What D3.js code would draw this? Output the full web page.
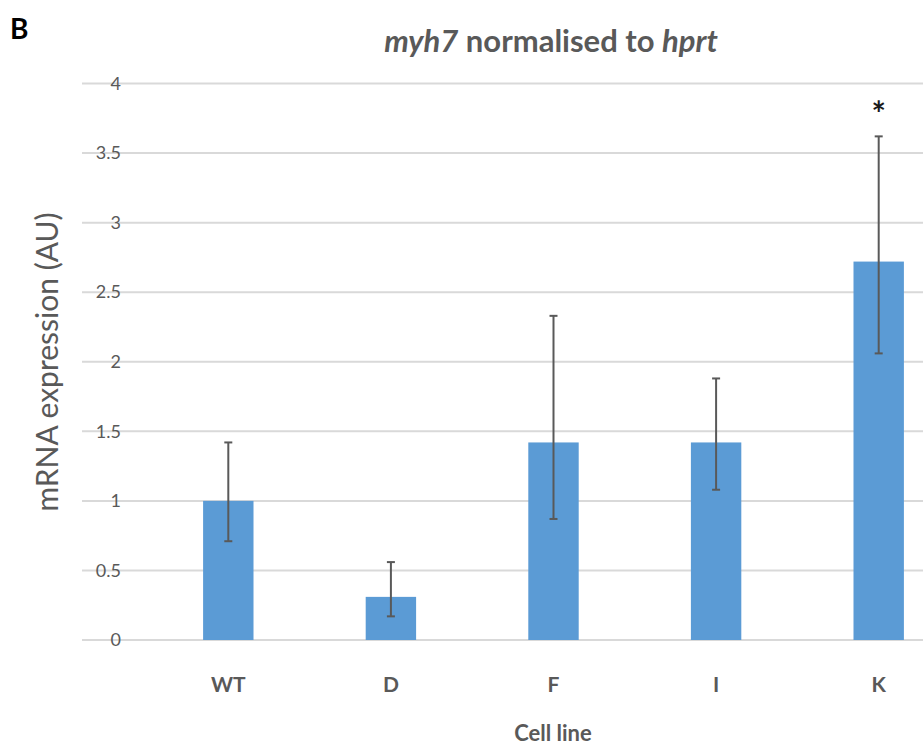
<!DOCTYPE html>
<html>
<head>
<meta charset="utf-8">
<script src="https://cdn.jsdelivr.net/npm/d3@7"></script>
<style>
  body { margin: 0; background: #fff; }
  svg { display: block; }
</style>
</head>
<body>
<div id="chart"></div>
<script>
const width = 923;
const height = 745;

// data
const cellLines = ['WT', 'D', 'F', 'I', 'K'];
const expression = [1.0, 0.31, 1.42, 1.42, 2.72];
const errLow = [0.71, 0.17, 0.87, 1.08, 2.06];
const errHigh = [1.42, 0.56, 2.33, 1.88, 3.62];
const significant = [false, false, false, false, true];
const yTicks = [0, 0.5, 1, 1.5, 2, 2.5, 3, 3.5, 4];

const barColor = '#5B9BD5';
const gridColor = '#D9D9D9';
const textColor = '#595959';
const fontFamily = 'Lato, "Open Sans", sans-serif';

const rows = cellLines.map((c, i) => ({
  name: c, value: expression[i], lo: errLow[i], hi: errHigh[i], star: significant[i]
}));

const svg = d3.select('#chart')
  .append('svg')
  .attr('width', width)
  .attr('height', height)
  .style('font-family', fontFamily);

const xScale = d3.scaleBand()
  .domain(cellLines)
  .range([147, 960])
  .paddingInner(0.69)
  .paddingOuter(0.345);

const yScale = d3.scaleLinear()
  .domain([0, 4])
  .range([640, 83.5]);

// gridlines
svg.append('g')
  .selectAll('line')
  .data(yTicks)
  .join('line')
  .attr('x1', 82)
  .attr('x2', width)
  .attr('y1', d => yScale(d))
  .attr('y2', d => yScale(d))
  .attr('stroke', gridColor)
  .attr('stroke-width', 2);

// y tick labels
const yAxis = d3.axisLeft(yScale)
  .tickValues(yTicks)
  .tickSize(0)
  .tickPadding(0)
  .tickFormat(d3.format('~g'));

const yAxisG = svg.append('g')
  .attr('transform', 'translate(121, 0)')
  .call(yAxis);
yAxisG.select('.domain').remove();
yAxisG.selectAll('text')
  .style('font-size', '18px')
  .style('font-family', fontFamily)
  .attr('fill', textColor);

// bars
svg.append('g')
  .selectAll('rect')
  .data(rows)
  .join('rect')
  .attr('x', d => xScale(d.name))
  .attr('y', d => yScale(d.value))
  .attr('width', xScale.bandwidth())
  .attr('height', d => yScale(0) - yScale(d.value))
  .attr('fill', barColor);

// error bars
const errG = svg.append('g')
  .attr('stroke', textColor)
  .attr('stroke-width', 2);
const cx = d => xScale(d.name) + xScale.bandwidth() / 2;

errG.selectAll('.err-v')
  .data(rows)
  .join('line')
  .attr('class', 'err-v')
  .attr('x1', cx).attr('x2', cx)
  .attr('y1', d => yScale(d.lo))
  .attr('y2', d => yScale(d.hi));

errG.selectAll('.cap-hi')
  .data(rows)
  .join('line')
  .attr('class', 'cap-hi')
  .attr('x1', d => cx(d) - 4).attr('x2', d => cx(d) + 4)
  .attr('y1', d => yScale(d.hi))
  .attr('y2', d => yScale(d.hi));

errG.selectAll('.cap-lo')
  .data(rows)
  .join('line')
  .attr('class', 'cap-lo')
  .attr('x1', d => cx(d) - 4).attr('x2', d => cx(d) + 4)
  .attr('y1', d => yScale(d.lo))
  .attr('y2', d => yScale(d.lo));

// significance star
svg.append('g')
  .selectAll('text')
  .data(rows.filter(d => d.star))
  .join('text')
  .attr('x', cx)
  .attr('y', d => yScale(d.hi) - 10)
  .attr('text-anchor', 'middle')
  .style('font-size', '34px')
  .style('font-weight', 'bold')
  .attr('fill', '#1a1a1a')
  .text('*');

// x tick labels
const xAxis = d3.axisBottom(xScale)
  .tickSize(0)
  .tickPadding(0);

const xAxisG = svg.append('g')
  .attr('transform', 'translate(0, 677)')
  .call(xAxis);
xAxisG.select('.domain').remove();
xAxisG.selectAll('text')
  .style('font-size', '21px')
  .style('font-weight', 'bold')
  .style('font-family', fontFamily)
  .attr('fill', textColor);

// axis titles
svg.append('text')
  .attr('x', 553)
  .attr('y', 741)
  .attr('text-anchor', 'middle')
  .style('font-size', '22px')
  .style('font-weight', 'bold')
  .attr('fill', textColor)
  .text('Cell line');

svg.append('text')
  .attr('text-anchor', 'middle')
  .attr('transform', 'translate(58, 362) rotate(-90)')
  .style('font-size', '30px')
  .attr('fill', textColor)
  .text('mRNA expression (AU)');

// chart title
const title = svg.append('text')
  .attr('x', 551)
  .attr('y', 52)
  .attr('text-anchor', 'middle')
  .style('font-size', '31px')
  .style('font-weight', 'bold')
  .attr('fill', textColor);
title.append('tspan').style('font-style', 'italic').text('myh7');
title.append('tspan').text(' normalised to ');
title.append('tspan').style('font-style', 'italic').text('hprt');

// panel letter
svg.append('text')
  .attr('x', 10)
  .attr('y', 39)
  .style('font-size', '28px')
  .style('font-weight', 'bold')
  .attr('fill', '#000')
  .text('B');
</script>
</body>
</html>
